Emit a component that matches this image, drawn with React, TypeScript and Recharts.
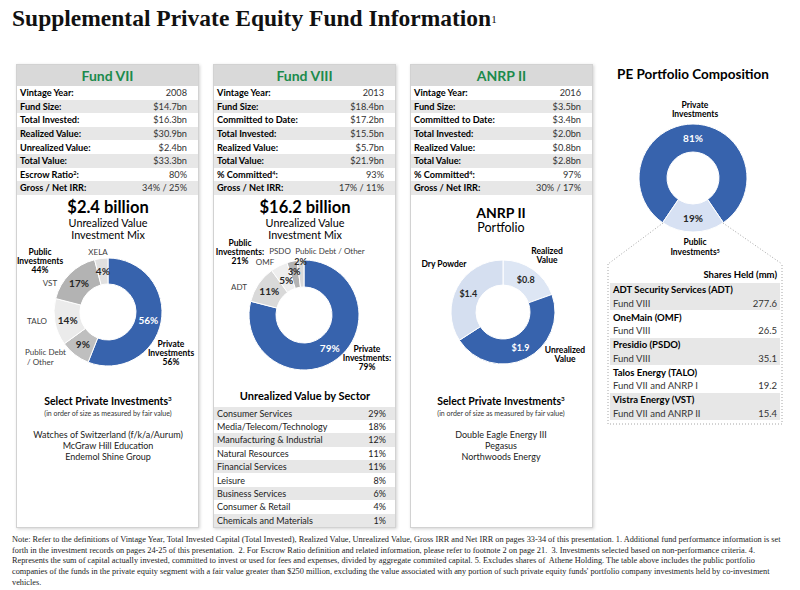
import React from "react";
import { PieChart, Pie, Cell } from "recharts";

// ---------- data ----------
const fund7Stats = [
  { label: "Vintage Year", note: "", value: "2008" },
  { label: "Fund Size", note: "", value: "$14.7bn" },
  { label: "Total Invested", note: "", value: "$16.3bn" },
  { label: "Realized Value", note: "", value: "$30.9bn" },
  { label: "Unrealized Value", note: "", value: "$2.4bn" },
  { label: "Total Value", note: "", value: "$33.3bn" },
  { label: "Escrow Ratio", note: "2", value: "80%" },
  { label: "Gross / Net IRR", note: "", value: "34% / 25%" },
];

const fund8Stats = [
  { label: "Vintage Year", note: "", value: "2013" },
  { label: "Fund Size", note: "", value: "$18.4bn" },
  { label: "Committed to Date", note: "", value: "$17.2bn" },
  { label: "Total Invested", note: "", value: "$15.5bn" },
  { label: "Realized Value", note: "", value: "$5.7bn" },
  { label: "Total Value", note: "", value: "$21.9bn" },
  { label: "% Committed", note: "4", value: "93%" },
  { label: "Gross / Net IRR", note: "", value: "17% / 11%" },
];

const anrpStats = [
  { label: "Vintage Year", note: "", value: "2016" },
  { label: "Fund Size", note: "", value: "$3.5bn" },
  { label: "Committed to Date", note: "", value: "$3.4bn" },
  { label: "Total Invested", note: "", value: "$2.0bn" },
  { label: "Realized Value", note: "", value: "$0.8bn" },
  { label: "Total Value", note: "", value: "$2.8bn" },
  { label: "% Committed", note: "4", value: "97%" },
  { label: "Gross / Net IRR", note: "", value: "30% / 17%" },
];

// clockwise from 12 o'clock
const fund7Mix = [
  { name: "Private Investments", value: 56 },
  { name: "Public Debt / Other", value: 9 },
  { name: "TALO", value: 14 },
  { name: "VST", value: 17 },
  { name: "XELA", value: 4 },
];

const fund8Mix = [
  { name: "Private Investments", value: 79 },
  { name: "ADT", value: 11 },
  { name: "OMF", value: 5 },
  { name: "PSDO", value: 3 },
  { name: "Public Debt / Other", value: 2 },
];

const anrpPortfolio = [
  { name: "Realized Value", value: 0.8 },
  { name: "Unrealized Value", value: 1.9 },
  { name: "Dry Powder", value: 1.4 },
];

const peComposition = [
  { name: "Private Investments", value: 81 },
  { name: "Public Investments", value: 19 },
];

const sectorNames = [
  "Consumer Services",
  "Media/Telecom/Technology",
  "Manufacturing & Industrial",
  "Natural Resources",
  "Financial Services",
  "Leisure",
  "Business Services",
  "Consumer & Retail",
  "Chemicals and Materials",
];
const sectorShares = [29, 18, 12, 11, 11, 8, 6, 4, 1];

const shareHoldings = [
  { company: "ADT Security Services (ADT)", holder: "Fund VIII", shares: "277.6" },
  { company: "OneMain (OMF)", holder: "Fund VIII", shares: "26.5" },
  { company: "Presidio (PSDO)", holder: "Fund VIII", shares: "35.1" },
  { company: "Talos Energy (TALO)", holder: "Fund VII and ANRP I", shares: "19.2" },
  { company: "Vistra Energy (VST)", holder: "Fund VII and ANRP II", shares: "15.4" },
];

const fund7Picks = [
  "Watches of Switzerland (f/k/a/Aurum)",
  "McGraw Hill Education",
  "Endemol Shine Group",
];
const anrpPicks = ["Double Eagle Energy III", "Pegasus", "Northwoods Energy"];

const footnoteLines = [
  "Note: Refer to the definitions of Vintage Year, Total Invested Capital (Total Invested), Realized Value, Unrealized Value, Gross IRR and Net IRR on pages 33-34 of this presentation. 1. Additional fund performance information is set",
  "forth in the investment records on pages 24-25 of this presentation.  2. For Escrow Ratio definition and related information, please refer to footnote 2 on page 21.  3. Investments selected based on non-performance criteria. 4.",
  "Represents the sum of capital actually invested, committed to invest or used for fees and expenses, divided by aggregate commited capital. 5. Excludes shares of  Athene Holding. The table above includes the public portfolio",
  "companies of the funds in the private equity segment with a fair value greater than $250 million, excluding the value associated with any portion of such private equity funds' portfolio company investments held by co-investment",
  "vehicles.",
];

// ---------- styles ----------
const FONT = "Lato, 'Open Sans', sans-serif";
const SERIF = "'Liberation Serif', 'Times New Roman', serif";
const GREEN = "#1b8a4c";
const BLUE = "#3763ad";
const DARK = "#262626";
const BAND = "#e7e7e7";
const RADIAN = Math.PI / 180;

const fund7Colors = [BLUE, "#bfbfbf", "#ebebeb", "#b3b3b3", "#e0e0e0"];
const fund8Colors = [BLUE, "#d9d9d9", "#eeeeee", "#b3b3b3", "#d9d9d9"];
const anrpColors = ["#dde6f4", BLUE, "#d5dff0"];
const peColors = [BLUE, "#d7e1f3"];

const PANEL_X = [16, 213, 410];
const PANEL_W = 183;
const PANEL_TOP = 64;
const PANEL_H = 464;

function Txt(props: any) {
  const { x, y, children, size = 9, bold = false, color = "#000", align = "center", lh = 1, family = FONT } = props;
  const tx = align === "center" ? "-50%" : align === "right" ? "-100%" : "0";
  return (
    <div
      style={{
        position: "absolute",
        left: x,
        top: y,
        transform: `translate(${tx},-50%)`,
        fontFamily: family,
        fontSize: size,
        fontWeight: bold ? 700 : 400,
        color,
        lineHeight: typeof lh === "number" && lh > 3 ? `${lh}px` : lh,
        whiteSpace: "nowrap",
        textAlign: align,
      }}
    >
      {children}
    </div>
  );
}

const Sup = ({ n }: any) => (
  <span style={{ fontSize: "0.6em", verticalAlign: "0.55em", lineHeight: 0 }}>{n}</span>
);

function Panel({ x, title, rows }: any) {
  return (
    <div
      style={{
        position: "absolute",
        left: x,
        top: PANEL_TOP,
        width: PANEL_W,
        height: PANEL_H,
        border: "1px solid #d2d2d2",
        boxShadow: "1px 1px 3px rgba(0,0,0,0.18)",
        background: "#fff",
        boxSizing: "border-box",
        fontFamily: FONT,
      }}
    >
      <div
        style={{
          height: 21,
          background: "#d9d9d9",
          display: "flex",
          alignItems: "center",
          justifyContent: "center",
          color: GREEN,
          fontWeight: 700,
          fontSize: 14,
        }}
      >
        {title}
      </div>
      {rows.map((r: any, i: number) => (
        <div
          key={i}
          style={{
            height: 13.6,
            background: i % 2 ? BAND : "#fff",
            display: "flex",
            alignItems: "center",
            justifyContent: "space-between",
            padding: "0 11px 0 3px",
            fontSize: 9.2,
          }}
        >
          <span style={{ fontWeight: 700 }}>
            {r.label}
            {r.note && <Sup n={r.note} />}:
          </span>
          <span style={{ color: "#333" }}>{r.value}</span>
        </div>
      ))}
    </div>
  );
}

function Donut(props: any) {
  const { data, colors, textColors, cx, cy, inner, outer, startAngle = 90, endAngle = -270, format, labelR } = props;
  const pad = 4;
  const size = outer * 2 + pad * 2;
  const renderLabel = (p: any) => {
    const r = labelR ? labelR[p.index] : (p.innerRadius + p.outerRadius) / 2;
    const x = p.cx + r * Math.cos(-p.midAngle * RADIAN);
    const y = p.cy + r * Math.sin(-p.midAngle * RADIAN);
    return (
      <text
        x={x}
        y={y}
        textAnchor="middle"
        dominantBaseline="central"
        fill={textColors[p.index]}
        fontFamily={FONT}
        fontWeight={700}
        fontSize={p.value < 4 ? 9 : 10}
      >
        {format(p.value)}
      </text>
    );
  };
  return (
    <div style={{ position: "absolute", left: cx - outer - pad, top: cy - outer - pad }}>
      <PieChart width={size} height={size} margin={{ top: 0, right: 0, bottom: 0, left: 0 }}>
        <Pie
          data={data}
          dataKey="value"
          nameKey="name"
          cx={outer + pad}
          cy={outer + pad}
          innerRadius={inner}
          outerRadius={outer}
          startAngle={startAngle}
          endAngle={endAngle}
          stroke="#ffffff"
          strokeWidth={1}
          label={renderLabel}
          labelLine={false}
          isAnimationActive={false}
        >
          {data.map((_: any, i: number) => (
            <Cell key={`c-${i}`} fill={colors[i]} />
          ))}
        </Pie>
      </PieChart>
    </div>
  );
}

export default function App() {
  const pct = (v: number) => `${v}%`;
  const usd = (v: number) => `$${v.toFixed(1)}`;
  const peTotal = peComposition.reduce((s, d) => s + d.value, 0);
  const peStart = -90 + (peComposition[1].value / peTotal) * 180;

  return (
    <div
      style={{
        position: "absolute",
        left: 0,
        top: 0,
        width: 800,
        height: 590,
        background: "#fff",
        overflow: "hidden",
      }}
    >
      {/* title */}
      <div
        style={{
          position: "absolute",
          left: 12,
          top: 7,
          fontFamily: SERIF,
          fontSize: 23.5,
          fontWeight: 700,
          lineHeight: 1,
          color: "#111",
          whiteSpace: "nowrap",
        }}
      >
        Supplemental Private Equity Fund Information
        <span style={{ fontSize: 11, fontWeight: 400, verticalAlign: 3 }}>1</span>
      </div>

      <Panel x={PANEL_X[0]} title="Fund VII" rows={fund7Stats} />
      <Panel x={PANEL_X[1]} title="Fund VIII" rows={fund8Stats} />
      <Panel x={PANEL_X[2]} title="ANRP II" rows={anrpStats} />

      {/* ---- Fund VII ---- */}
      <Txt x={108} y={207} size={16.5} bold>$2.4 billion</Txt>
      <Txt x={108} y={223} size={10.8}>Unrealized Value</Txt>
      <Txt x={108} y={235} size={10.8}>Investment Mix</Txt>
      <Donut
        data={fund7Mix}
        colors={fund7Colors}
        textColors={["#fff", DARK, DARK, DARK, DARK]}
        cx={108}
        cy={312}
        inner={28}
        outer={54}
        format={pct}
      />
      <Txt x={40} y={261} size={8.5} bold lh={8.8}>
        Public
        <br />
        Investments
        <br />
        44%
      </Txt>
      <Txt x={98} y={252} size={8} color="#404040">XELA</Txt>
      <Txt x={50} y={283} size={8} color="#404040">VST</Txt>
      <Txt x={37} y={321} size={8} color="#404040">TALO</Txt>
      <Txt x={25} y={357} size={8} color="#404040" align="left" lh={9.5}>
        Public Debt
        <br />
        &nbsp;/ Other
      </Txt>
      <Txt x={171} y={353} size={8.5} bold lh={8.8}>
        Private
        <br />
        Investments
        <br />
        56%
      </Txt>

      <Txt x={108} y={401} size={10.5} bold>
        Select Private Investments<Sup n="3" />
      </Txt>
      <Txt x={108} y={413} size={7} color="#333">(in order of size as measured by fair value)</Txt>
      {fund7Picks.map((p, i) => (
        <Txt key={p} x={108} y={434 + i * 11} size={9} color="#222">
          {p}
        </Txt>
      ))}

      {/* ---- Fund VIII ---- */}
      <Txt x={305} y={207} size={16.5} bold>$16.2 billion</Txt>
      <Txt x={305} y={223} size={10.8}>Unrealized Value</Txt>
      <Txt x={305} y={235} size={10.8}>Investment Mix</Txt>
      <Donut
        data={fund8Mix}
        colors={fund8Colors}
        textColors={["#fff", DARK, DARK, DARK, DARK]}
        cx={304}
        cy={315}
        inner={28}
        outer={55}
        format={pct}
        labelR={[42, 42, 39, 45, 54]}
      />
      <Txt x={240} y={252} size={8.5} bold lh={8.8}>
        Public
        <br />
        Investments:
        <br />
        21%
      </Txt>
      <Txt x={280} y={251} size={8} color="#404040">PSDO</Txt>
      <Txt x={330} y={251} size={8} color="#404040">Public Debt / Other</Txt>
      <Txt x={265} y={262} size={8} color="#404040">OMF</Txt>
      <Txt x={239} y={287} size={8} color="#404040">ADT</Txt>
      <Txt x={367} y={358} size={8.5} bold lh={8.8}>
        Private
        <br />
        Investments:
        <br />
        79%
      </Txt>

      <Txt x={305} y={395} size={11} bold>Unrealized Value by Sector</Txt>
      {sectorNames.map((s, i) => (
        <div
          key={s}
          style={{
            position: "absolute",
            left: PANEL_X[1] + 1,
            top: 406.5 + i * 13.4,
            width: PANEL_W - 2,
            height: 13.4,
            background: i % 2 === 0 ? BAND : "#fff",
            display: "flex",
            alignItems: "center",
            justifyContent: "space-between",
            padding: "0 9px 0 3px",
            boxSizing: "border-box",
            fontFamily: FONT,
            fontSize: 9,
            color: "#222",
          }}
        >
          <span>{s}</span>
          <span>{sectorShares[i]}%</span>
        </div>
      ))}

      {/* ---- ANRP II ---- */}
      <Txt x={501} y={213} size={14} bold>ANRP II</Txt>
      <Txt x={501} y={228} size={12.5}>Portfolio</Txt>
      <Donut
        data={anrpPortfolio}
        colors={anrpColors}
        textColors={[DARK, "#fff", DARK]}
        cx={503}
        cy={312}
        inner={27}
        outer={52}
        format={usd}
      />
      <Txt x={547} y={256} size={8.5} bold lh={9.2}>
        Realized
        <br />
        Value
      </Txt>
      <Txt x={444} y={264} size={8.5} bold>Dry Powder</Txt>
      <Txt x={565} y={355} size={8.5} bold lh={9.2}>
        Unrealized
        <br />
        Value
      </Txt>

      <Txt x={501} y={401} size={10.5} bold>
        Select Private Investments<Sup n="3" />
      </Txt>
      <Txt x={501} y={413} size={7} color="#333">(in order of size as measured by fair value)</Txt>
      {anrpPicks.map((p, i) => (
        <Txt key={p} x={501} y={434 + i * 11} size={9} color="#222">
          {p}
        </Txt>
      ))}

      {/* ---- PE Portfolio Composition ---- */}
      <Txt x={693} y={75} size={13.5} bold>PE Portfolio Composition</Txt>
      <Txt x={695} y={110} size={8.5} bold lh={9.2}>
        Private
        <br />
        Investments
      </Txt>
      <Donut
        data={peComposition}
        colors={peColors}
        textColors={["#fff", DARK]}
        cx={693}
        cy={178}
        inner={26}
        outer={54}
        startAngle={peStart}
        endAngle={peStart + 360}
        format={pct}
      />
      <Txt x={695} y={248} size={8.5} bold lh={9.6}>
        Public
        <br />
        Investments<Sup n="5" />
      </Txt>

      <svg
        width={800}
        height={590}
        style={{ position: "absolute", left: 0, top: 0, pointerEvents: "none" }}
      >
        <g stroke="#a6a6a6" strokeWidth={1} strokeDasharray="1 2" fill="none">
          <line x1={663} y1={223} x2={608} y2={264} />
          <line x1={723} y1={223} x2={782} y2={264} />
          <polyline points="608,264 608,424 782,424 782,264" />
        </g>
      </svg>

      <Txt x={777} y={275} size={9.5} bold align="right">Shares Held (mm)</Txt>
      {shareHoldings.map((h, i) => (
        <div
          key={h.company}
          style={{
            position: "absolute",
            left: 610,
            top: 283 + i * 27.4,
            width: 170,
            height: 27.4,
            background: i % 2 === 0 ? BAND : "#fff",
            fontFamily: FONT,
          }}
        >
          <div
            style={{
              height: 13.7,
              display: "flex",
              alignItems: "center",
              paddingLeft: 3,
              fontSize: 9.5,
              fontWeight: 700,
            }}
          >
            {h.company}
          </div>
          <div
            style={{
              height: 13.7,
              display: "flex",
              alignItems: "center",
              justifyContent: "space-between",
              padding: "0 3px",
              fontSize: 9.5,
              color: "#333",
            }}
          >
            <span>{h.holder}</span>
            <span>{h.shares}</span>
          </div>
        </div>
      ))}

      {/* footnote */}
      {footnoteLines.map((l, i) => (
        <div
          key={i}
          style={{
            position: "absolute",
            left: 12,
            top: 535 + i * 10.7,
            fontFamily: SERIF,
            fontSize: 8.3,
            lineHeight: "10px",
            whiteSpace: "pre",
            color: "#222",
          }}
        >
          {l}
        </div>
      ))}
    </div>
  );
}
